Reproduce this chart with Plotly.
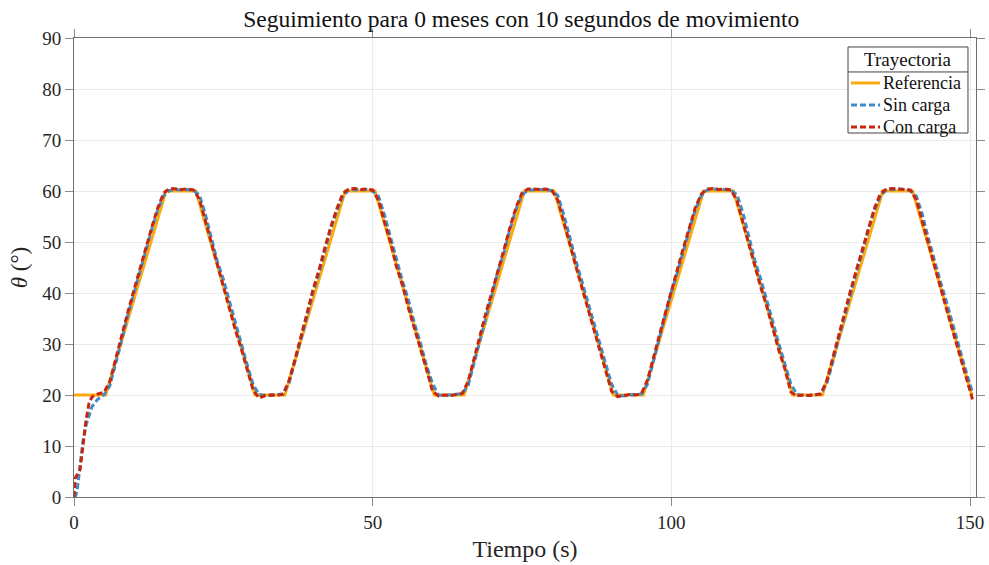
import plotly.graph_objects as go

# Reference trajectory (piecewise linear set points)
ref_t = [0, 5.3, 15.4, 20.4, 30.3, 35.3, 45.4, 50.4, 60.3, 65.3, 75.4, 80.4,
         90.3, 95.3, 105.4, 110.4, 120.3, 125.3, 135.4, 140.4, 150.3, 150.5]
ref_v = [20, 20, 60, 60, 20, 20, 60, 60, 20, 20, 60, 60,
         20, 20, 60, 60, 20, 20, 60, 60, 20, 20]

# Sample times of the measured responses (s)
t_meas = [0, 0.25, 0.5, 1, 1.5, 2, 2.5] + list(range(3, 151)) + [150.5]

# Measured angle without load (deg)
sin_carga = [
    0.0, 0.2, 1.0, 5.5, 11.0, 14.0, 16.0,
    17.7, 19.2, 20.0, 21.8, 26.2, 30.8, 35.6, 39.8, 44.2, 48.3, 52.4, 56.2, 59.1,
    60.1, 60.3, 60.2, 60.3, 60.1, 59.2, 55.4, 50.6, 46.2, 42.7, 38.4, 34.2, 30.1, 25.9,
    22.0, 20.1, 19.9, 20.0, 20.0, 20.2, 22.3, 26.6, 31.2, 35.3, 40.1, 43.8, 48.2, 52.7, 56.1,
    59.0, 60.2, 60.3, 60.2, 60.3, 60.0, 58.9, 55.2, 50.9, 46.8, 42.3, 38.6, 34.0, 30.2, 25.8,
    22.3, 20.0, 19.9, 20.0, 20.1, 20.3, 21.9, 26.4, 30.9, 35.8, 39.9, 44.3, 48.0, 52.6, 56.4,
    59.2, 60.2, 60.3, 60.3, 60.2, 60.1, 59.1, 55.3, 51.0, 46.4, 42.4, 38.3, 34.1, 29.8, 25.9,
    22.1, 20.0, 19.8, 20.0, 20.1, 20.2, 22.1, 26.5, 31.1, 35.4, 40.2, 44.0, 48.4, 52.3, 56.3,
    59.1, 60.2, 60.4, 60.3, 60.3, 60.1, 59.3, 55.6, 50.7, 46.3, 42.6, 38.2, 34.3, 30.0, 26.1,
    22.2, 20.1, 19.9, 19.9, 20.0, 20.2, 22.2, 26.3, 31.0, 35.5, 40.0, 44.1, 48.1, 52.5, 56.2,
    59.0, 60.2, 60.3, 60.4, 60.3, 60.1, 59.0, 55.5, 50.8, 46.5, 42.4, 38.5, 34.2, 30.1, 26.0,
    22.0, 20.3,
]

# Measured angle with load (deg)
con_carga = [
    0.0, 3.8, 4.3, 5.3, 10.0, 15.0, 18.3,
    19.6, 20.2, 20.5, 22.6, 27.2, 31.6, 36.2, 40.4, 44.6, 48.7, 52.8, 56.6, 59.6,
    60.5, 60.4, 60.3, 60.4, 60.2, 58.4, 54.1, 49.6, 45.4, 41.3, 37.2, 32.8, 29.1, 25.0,
    20.9, 19.4, 19.9, 20.0, 19.9, 20.2, 22.8, 27.0, 31.8, 36.0, 40.6, 44.4, 48.9, 53.0, 56.5,
    59.5, 60.4, 60.5, 60.3, 60.4, 60.2, 58.1, 53.8, 49.9, 45.1, 41.5, 37.0, 33.1, 28.8, 25.1,
    20.8, 19.8, 20.0, 19.9, 20.1, 20.3, 22.7, 27.4, 31.5, 36.3, 40.3, 44.7, 48.6, 52.9, 56.8,
    59.6, 60.4, 60.4, 60.3, 60.4, 60.1, 58.2, 54.2, 49.7, 45.3, 41.2, 37.4, 32.9, 28.9, 24.8,
    20.7, 19.7, 19.9, 20.1, 20.0, 20.3, 22.9, 27.1, 31.7, 36.1, 40.5, 44.5, 48.8, 52.7, 56.7,
    59.4, 60.4, 60.5, 60.3, 60.4, 60.2, 58.0, 53.7, 49.5, 45.6, 41.0, 37.3, 33.2, 28.7, 25.2,
    20.6, 19.8, 20.0, 19.9, 20.1, 20.2, 22.7, 27.3, 31.6, 36.2, 40.5, 44.6, 48.7, 52.8, 56.6,
    59.5, 60.4, 60.5, 60.4, 60.4, 60.2, 58.3, 54.0, 49.8, 45.2, 41.4, 37.1, 33.0, 29.0, 25.1,
    20.6, 18.8,
]

x_ticks = [0, 50, 100, 150]
y_ticks = [0, 10, 20, 30, 40, 50, 60, 70, 80, 90]

SERIF = "Liberation Serif, Times New Roman, serif"
C_REF = "#FDAA0E"
C_SIN = "#3F8ECB"
C_CON = "#C8260F"
DASH = "6px,3px"

series = [
    ("Referencia", ref_t, ref_v, C_REF, "solid"),
    ("Sin carga", t_meas, sin_carga, C_SIN, DASH),
    ("Con carga", t_meas, con_carga, C_CON, DASH),
]

fig = go.Figure()
for name, xs, ys, color, dash in series:
    fig.add_trace(go.Scatter(x=xs, y=ys, mode="lines", name=name, showlegend=False,
                             line=dict(color=color, width=3, dash=dash)))

axis_common = dict(
    showgrid=True, gridcolor="#ebebeb", gridwidth=1,
    showline=True, linecolor="#6f6f6f", linewidth=1, mirror="ticks",
    ticks="outside", ticklen=8, tickcolor="#8a8a8a",
    tickfont=dict(family=SERIF, size=19, color="#262626"),
    zeroline=False, automargin=False,
)

fig.update_xaxes(range=[0, 151], tickvals=x_ticks, **axis_common,
                 title=dict(text="Tiempo (s)", font=dict(family=SERIF, size=24, color="#262626"),
                            standoff=8))
fig.update_yaxes(range=[0, 90], tickvals=y_ticks, **axis_common,
                 title=dict(text="<i>θ</i> (°)", font=dict(family=SERIF, size=23, color="#262626"),
                            standoff=8))

fig.update_layout(
    width=989, height=565,
    margin=dict(l=74, r=13, t=38, b=68),
    paper_bgcolor="white", plot_bgcolor="white",
    title=dict(text="Seguimiento para 0 meses con 10 segundos de movimiento",
               x=0.527, xanchor="center", y=0.982, yanchor="top",
               font=dict(family=SERIF, size=23.5, color="#111111")),
    showlegend=False,
)

# Legend box: frame, title, separator and one row per series
LX0, LX1, LY0, LY1 = 0.8581, 0.9911, 0.793, 0.9804
fig.add_shape(type="rect", xref="paper", yref="paper", x0=LX0, x1=LX1, y0=LY0, y1=LY1,
              line=dict(color="#444444", width=1), fillcolor="white", layer="above")
fig.add_shape(type="line", xref="paper", yref="paper", x0=LX0, x1=LX1, y0=0.926, y1=0.926,
              line=dict(color="#444444", width=1), layer="above")
fig.add_annotation(text="Trayectoria", xref="paper", yref="paper",
                   x=0.9246, y=0.954, xanchor="center", yanchor="middle",
                   showarrow=False, font=dict(family=SERIF, size=19, color="#111111"))
row_y = [0.9020, 0.8540, 0.8061]
for (name, _, _, color, dash), ry in zip(series, row_y):
    fig.add_shape(type="line", xref="paper", yref="paper",
                  x0=0.8614, x1=0.8936, y0=ry, y1=ry,
                  line=dict(color=color, width=3, dash=dash), layer="above")
    fig.add_annotation(text=name, xref="paper", yref="paper", x=0.8950, y=ry,
                       xanchor="left", yanchor="middle", showarrow=False,
                       font=dict(family=SERIF, size=18, color="#111111"))

fig.write_html("out.html")
